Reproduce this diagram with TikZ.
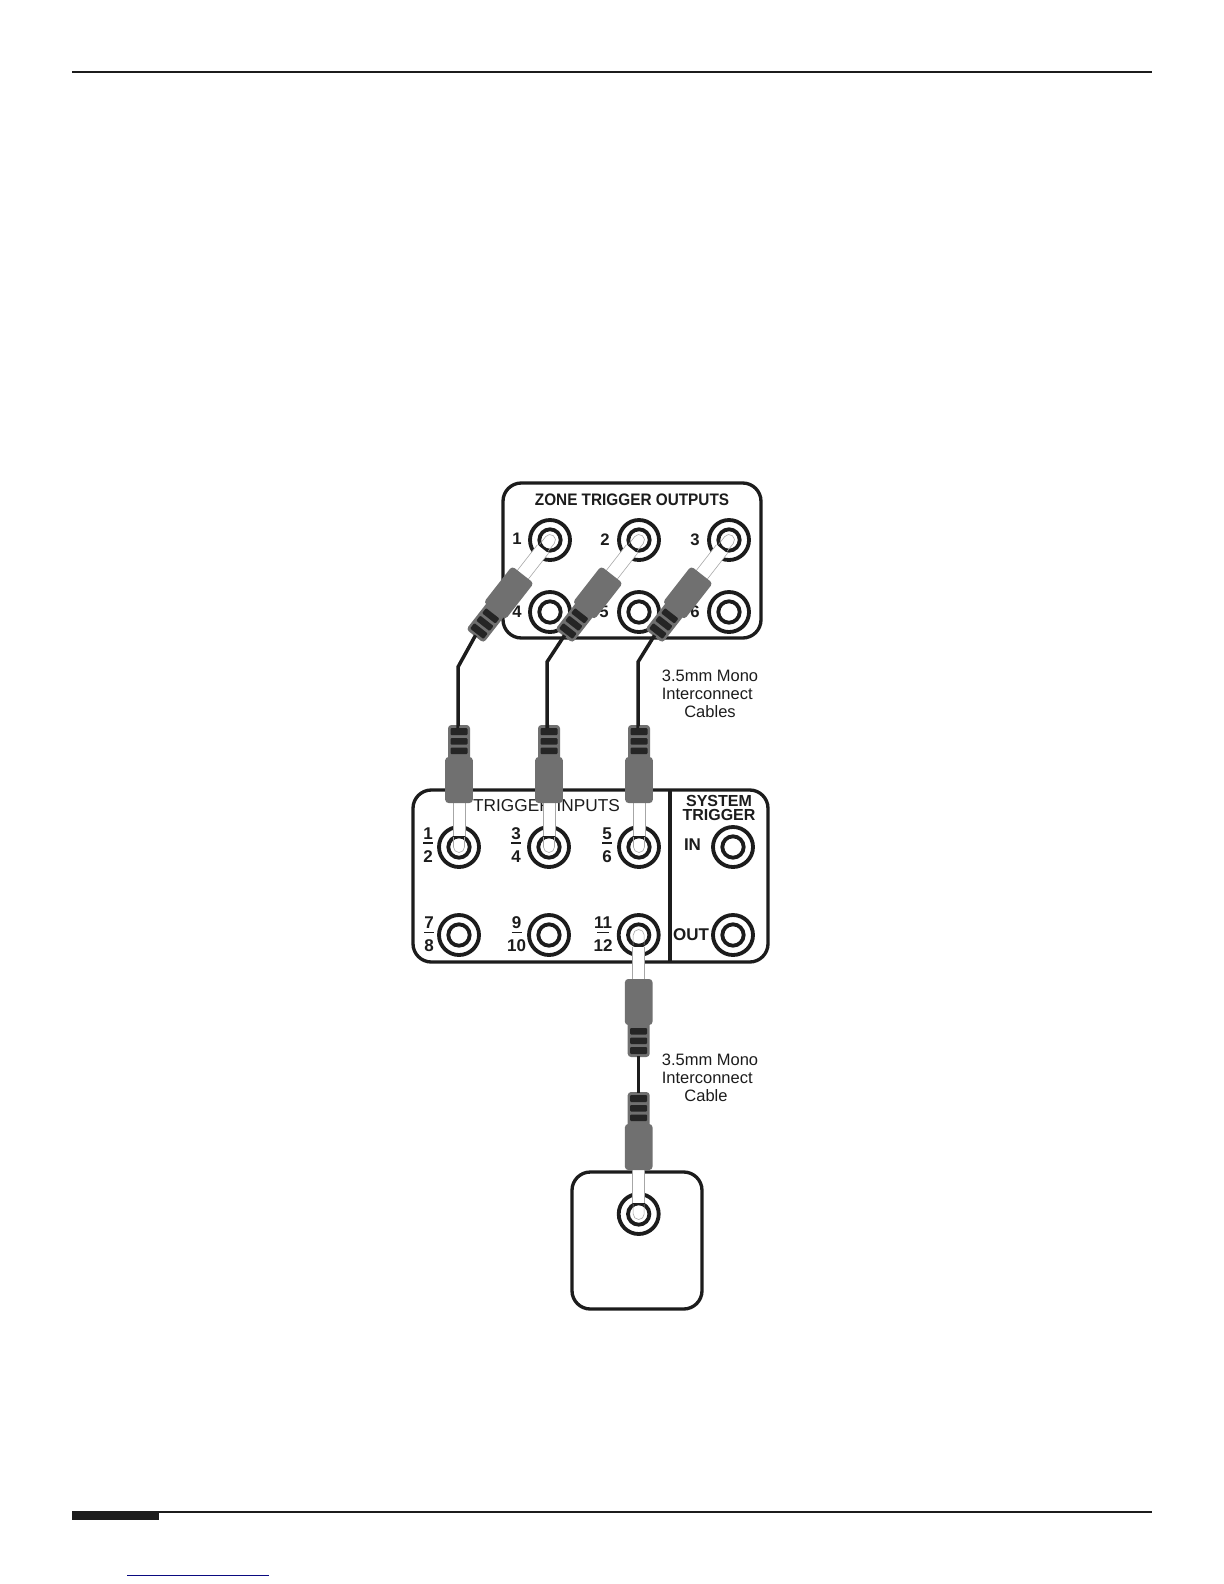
\documentclass[tikz,border=0pt]{standalone}
\usepackage{fontspec}
\setmainfont{Liberation Sans}
\definecolor{plugbody}{HTML}{707070}
\definecolor{plugrib}{HTML}{252525}
\definecolor{inkline}{HTML}{1C1C1C}
\definecolor{linkblue}{HTML}{0A0A80}
\tikzset{
  x=0.6pt,y=-0.6pt,
  panel/.style={draw=inkline,line width=2pt,rounded corners=11pt,fill=white},
  jackouter/.style={circle,draw=inkline,line width=2.3pt,minimum size=24pt,inner sep=0pt},
  jackinner/.style={circle,draw=inkline,line width=2.3pt,minimum size=12.8pt,inner sep=0pt},
  rulerline/.style={draw=inkline,line width=1.2pt},
  cablewire/.style={draw=inkline,line width=2.1pt,line join=miter},
  plugshaft/.style={fill=white,draw=gray!70,line width=0.35pt},
  plugshell/.style={fill=plugbody,draw=none,rounded corners=2pt},
  plugridge/.style={fill=plugrib,draw=none,rounded corners=0.6pt},
  lab/.style={inner sep=0pt,font=\fontsize{9.9}{10.6}\selectfont,text=inkline},
  blab/.style={inner sep=0pt,font=\fontsize{9.6}{10}\selectfont\bfseries,text=inkline},
  flab/.style={inner sep=0pt,font=\fontsize{10.2}{11}\selectfont\bfseries,text=inkline},
  tlab/.style={inner sep=0pt,font=\fontsize{10}{11}\selectfont\bfseries,text=inkline},
  note/.style={inner sep=0pt,align=left,anchor=north west,font=\fontsize{9.9}{10.6}\selectfont,text=inkline},
}
\newcommand{\jackpair}[3]{%
  \node[jackouter] (#1) at (#2,#3) {};
  \node[jackinner] (#1in) at (#2,#3) {};
}
\newcommand{\plugat}[4]{% name, jack node, rotation, shaft half width
  \begin{scope}[shift={(#2.center)},rotate=#3]
    \draw[plugshaft,fill=none] (-5.5,10) -- (-5.5,0) arc[start angle=180,end angle=360,radius=5.5] -- (5.5,10);
    \fill[white] (-#4,11.5) rectangle (#4,46);
    \draw[gray!70,line width=0.35pt] (-#4,11.5) -- (-#4,46) (#4,11.5) -- (#4,46);
    \path[plugshell] (-11,84) rectangle (11,122);
    \path[plugshell] (-13.8,44) rectangle (13.8,90);
    \path[plugridge] (-8.5,93) rectangle (8.5,99.5);
    \path[plugridge] (-8.5,102.5) rectangle (8.5,109);
    \path[plugridge] (-8.5,112) rectangle (8.5,119);
    \coordinate (#1) at (0,121);
  \end{scope}
}
\newcommand{\fraclab}[6]{% name,x,ybar,top,bot,barhalf
  \node[flab] (#1t) at (#2,#3-9.5) {#4};
  \node[flab] (#1b) at (#2,#3+13.5) {#5};
  \draw[inkline,line width=0.8pt] (#2-#6,#3) -- (#2+#6,#3);
}
\begin{document}
\begin{tikzpicture}
\useasboundingbox (0,0) rectangle (1224,1584);
% page rules
\draw[rulerline] (72,72) -- (1152,72);
\draw[rulerline] (72,1512) -- (1152,1512);
\fill[inkline] (72,1511) rectangle (159,1520);
\draw[linkblue,line width=0.8pt] (127,1575.3) -- (269,1575.3);
% panels
\draw[panel] (503,483) rectangle (761,638);
\draw[panel] (413,790) rectangle (768,962);
\draw[inkline,line width=2.4pt] (669.5,790) -- (669.5,962);
\draw[panel] (572,1172) rectangle (702,1309);
% panel titles
\node[tlab] (zonetitle) at (632,499.5) {\scalebox{0.92}[1]{ZONE TRIGGER OUTPUTS}};
\node[lab] (trigtitle) at (546.5,806) {\fontsize{10.35}{11}\selectfont TRIGGER INPUTS};
\node[blab] (sys1) at (719,801) {SYSTEM};
\node[blab] (sys2) at (719,815) {TRIGGER};
% labels
\node[tlab] (n1) at (517,539) {1};
\node[tlab] (n2) at (605,540) {2};
\node[tlab] (n3) at (695,540) {3};
\node[tlab] (n4) at (517,612) {4};
\node[tlab] (n5) at (604,612) {5};
\node[tlab] (n6) at (695,612) {6};
\fraclab{f1}{428}{843}{1}{2}{5}
\fraclab{f3}{516}{843}{3}{4}{5}
\fraclab{f5}{607}{843}{5}{6}{5}
\fraclab{f7}{429}{932.5}{7}{8}{5}
\fraclab{f9}{516.5}{932.5}{9}{10}{5}
\fraclab{f11}{603}{932.5}{11}{12}{6}
\node[flab] (inlab) at (692.5,845) {IN};
\node[flab] (outlab) at (691,935) {OUT};
% jacks
\jackpair{za}{550}{540}
\jackpair{zb}{639}{540}
\jackpair{zc}{729}{540}
\jackpair{zd}{550}{612}
\jackpair{ze}{639}{612}
\jackpair{zf}{729}{612}
\jackpair{ta}{459}{847}
\jackpair{tb}{549}{847}
\jackpair{tc}{639}{847}
\jackpair{sa}{733}{847}
\jackpair{td}{459}{935}
\jackpair{te}{549}{935}
\jackpair{tf}{638.7}{935}
\jackpair{sb}{733}{935}
\jackpair{dev}{638.7}{1214}
% plugs
\plugat{pa}{za}{-38}{7}
\plugat{pb}{zb}{-38}{7}
\plugat{pc}{zc}{-38}{7}
\plugat{qa}{ta}{180}{6}
\plugat{qb}{tb}{180}{6}
\plugat{qc}{tc}{180}{6}
\plugat{qd}{tf}{0}{6}
\plugat{qe}{dev}{180}{6}
% cables
\coordinate (ka) at (458,667);
\coordinate (kb) at (547,662);
\coordinate (kc) at (638,662);
\draw[cablewire] (pa) -- (ka) -- (ka |- qa) -- (qa);
\draw[cablewire] (pb) -- (kb) -- (kb |- qb) -- (qb);
\draw[cablewire] (pc) -- (kc) -- (kc |- qc) -- (qc);
\draw[cablewire,line width=1.9pt] (qd) -- (qe);
% notes
\node[note] (notea) at (661.5,669.5) {3.5mm Mono\\Interconnect};
\node[lab] (noteaa) at (710,712) {Cables};
\node[note] (noteb) at (661.5,1054) {3.5mm Mono\\Interconnect};
\node[lab] (notebb) at (706,1096) {Cable};
\end{tikzpicture}
\end{document}
